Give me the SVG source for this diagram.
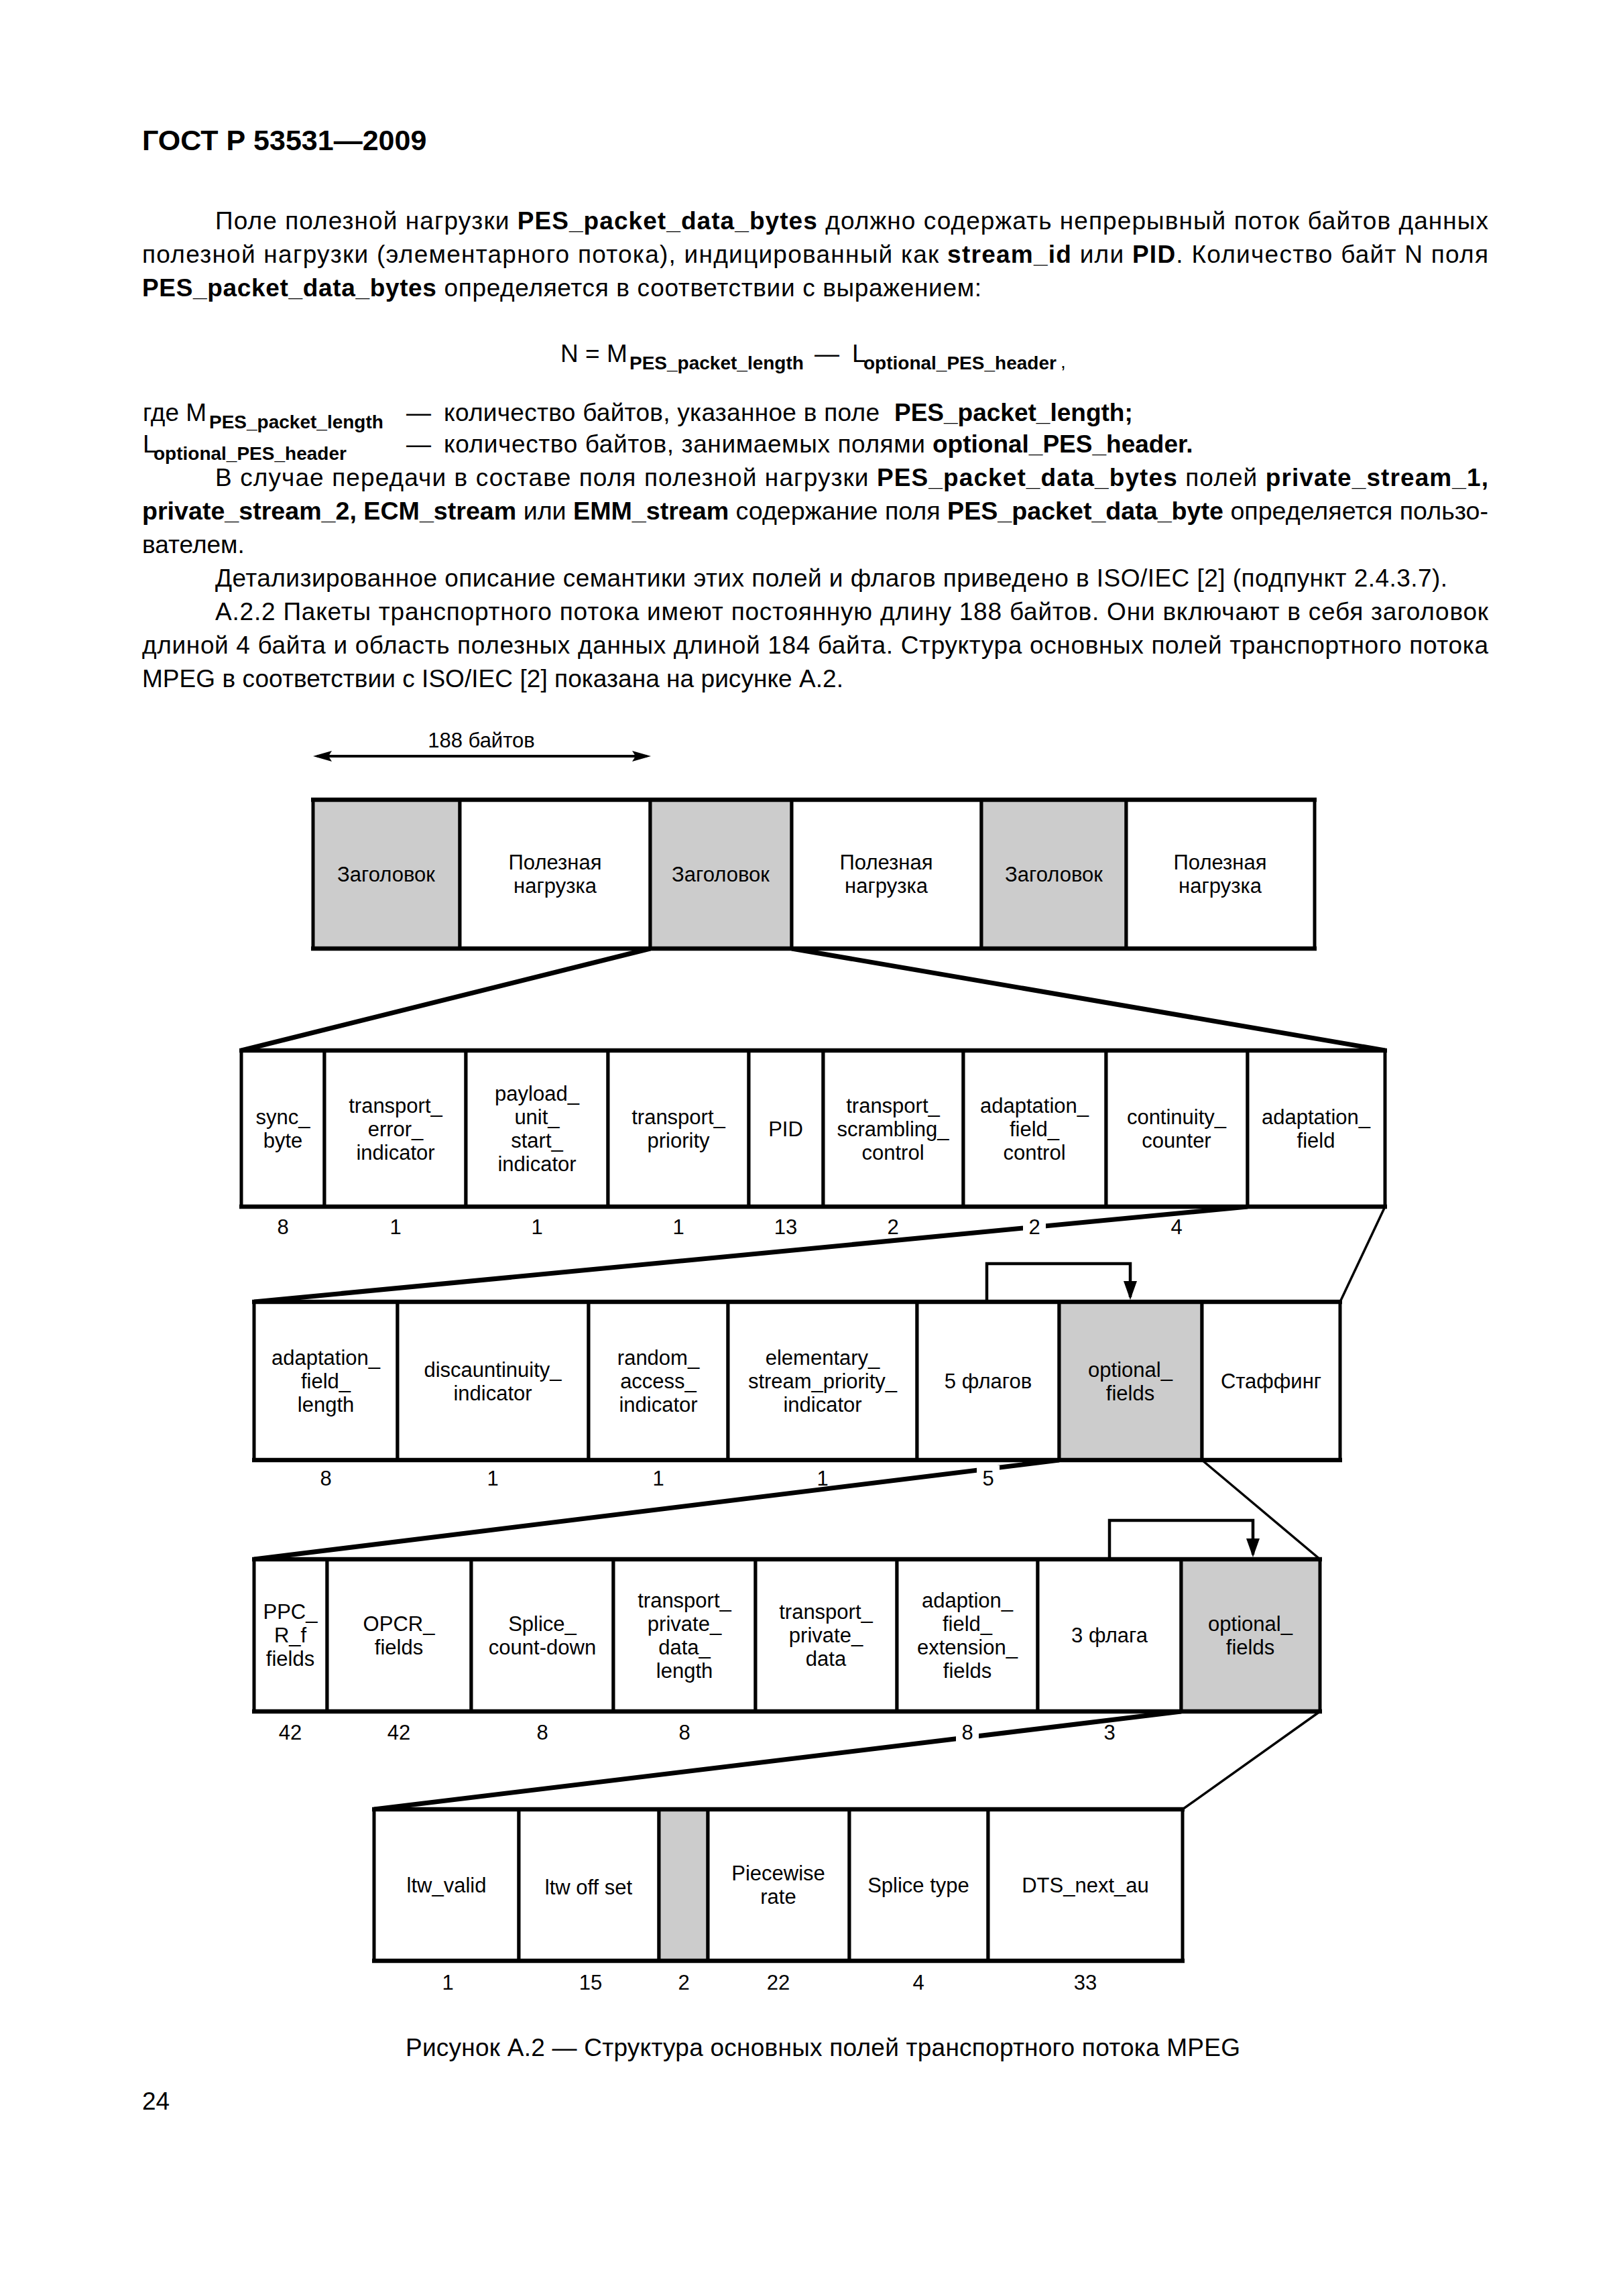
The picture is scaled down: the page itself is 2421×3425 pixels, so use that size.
<svg xmlns="http://www.w3.org/2000/svg" width="2421" height="3425" viewBox="0 0 2421 3425">
<style>
text{font-family:"Liberation Sans",Arial,sans-serif;fill:#000}
.body{font-size:37px}
.hdr{font-size:43px;font-weight:bold}
.b{font-weight:bold}
.sub{font-size:28px;font-weight:bold}
.lbl{font-size:31px;text-anchor:middle}
.num{font-size:31px;text-anchor:middle}
.cell{fill:#fff;stroke:#000;stroke-width:5}
.gray{fill:#cccccc}
.hl{stroke:#000;stroke-width:6.5}
.thick{stroke:#000;stroke-width:7;fill:none}
.thin{stroke:#000;stroke-width:3.5;fill:none}
.brk{stroke:#000;stroke-width:4.5;fill:none}
.gap{fill:#fff}
</style>
<defs>
<marker id="dim" markerUnits="userSpaceOnUse" viewBox="0 0 28 16" refX="22" refY="8" markerWidth="28" markerHeight="16" orient="auto-start-reverse">
<path d="M0,0 L28,8 L0,16 L5,8 Z" fill="#000"/>
</marker>
<marker id="down" markerUnits="userSpaceOnUse" viewBox="0 0 28 20" refX="24" refY="10" markerWidth="28" markerHeight="20" orient="auto">
<path d="M0,0 L28,10 L0,20 Z" fill="#000"/>
</marker>
</defs>
<rect x="0" y="0" width="2421" height="3425" fill="#fff"/>

<g id="page-text">
<text class="hdr" x="212" y="224">ГОСТ Р 53531—2009</text>
<text class="body" x="321" y="342" textLength="1899" lengthAdjust="spacing">Поле полезной нагрузки <tspan class="b">PES_packet_data_bytes</tspan> должно содержать непрерывный поток байтов данных</text>
<text class="body" x="212" y="392" textLength="2008" lengthAdjust="spacing">полезной нагрузки (элементарного потока), индицированный как <tspan class="b">stream_id</tspan> или <tspan class="b">PID</tspan>. Количество байт N поля</text>
<text class="body" x="212" y="442" textLength="1252" lengthAdjust="spacing"><tspan class="b">PES_packet_data_bytes</tspan> определяется в соответствии с выражением:</text>
<text class="body" y="540"><tspan x="836">N = M</tspan><tspan class="sub" x="939" y="551">PES_packet_length</tspan><tspan x="1215" y="540">—</tspan><tspan x="1271" y="540">L</tspan><tspan class="sub" x="1288" y="551">optional_PES_header</tspan><tspan class="sub" x="1582" y="549" style="font-weight:normal">,</tspan></text>
<text class="body" y="628"><tspan x="213">где M</tspan><tspan class="sub" x="312" y="639">PES_packet_length</tspan><tspan x="606" y="628">—</tspan></text>
<text class="body" x="662" y="628" textLength="650" lengthAdjust="spacing">количество байтов, указанное в поле</text>
<text class="body b" x="1334" y="628">PES_packet_length;</text>
<text class="body" y="675"><tspan x="213">L</tspan><tspan class="sub" x="229" y="686">optional_PES_header</tspan><tspan x="606" y="675">—</tspan></text>
<text class="body" x="662" y="675" textLength="718" lengthAdjust="spacing">количество байтов, занимаемых полями</text>
<text class="body b" x="1391" y="675">optional_PES_header.</text>
<text class="body" x="321" y="725" textLength="1899" lengthAdjust="spacing">В случае передачи в составе поля полезной нагрузки <tspan class="b">PES_packet_data_bytes</tspan> полей <tspan class="b">private_stream_1,</tspan></text>
<text class="body" x="212" y="775" textLength="2008" lengthAdjust="spacingAndGlyphs"><tspan class="b">private_stream_2, ECM_stream</tspan> или <tspan class="b">EMM_stream</tspan> содержание поля <tspan class="b">PES_packet_data_byte</tspan> определяется пользо-</text>
<text class="body" x="212" y="825">вателем.</text>
<text class="body" x="321" y="875" textLength="1838" lengthAdjust="spacing">Детализированное описание семантики этих полей и флагов приведено в ISO/IEC [2] (подпункт 2.4.3.7).</text>
<text class="body" x="321" y="925" textLength="1899" lengthAdjust="spacing">А.2.2 Пакеты транспортного потока имеют постоянную длину 188 байтов. Они включают в себя заголовок</text>
<text class="body" x="212" y="975" textLength="2008" lengthAdjust="spacing">длиной 4 байта и область полезных данных длиной 184 байта. Структура основных полей транспортного потока</text>
<text class="body" x="212" y="1025" textLength="1046" lengthAdjust="spacing">MPEG в соответствии с ISO/IEC [2] показана на рисунке А.2.</text>
<text class="body" x="605" y="3067" textLength="1245" lengthAdjust="spacing">Рисунок А.2 — Структура основных полей транспортного потока MPEG</text>
<text class="body" x="212" y="3147">24</text>
</g>

<g id="connectors">
<line x1="473" y1="1128" x2="965" y2="1128" stroke="#000" stroke-width="4" marker-start="url(#dim)" marker-end="url(#dim)"/>
<line class="thick" x1="970" y1="1415" x2="360" y2="1567"/>
<line class="thick" x1="1181" y1="1415" x2="2066" y2="1567"/>
<line class="thick" x1="1861" y1="1800" x2="379" y2="1942"/>
<line class="thin" x1="2066" y1="1800" x2="1999" y2="1942"/>
<line class="thick" x1="1580" y1="2178" x2="379" y2="2326"/>
<line class="thin" x1="1793" y1="2178" x2="1969" y2="2326"/>
<line class="thick" x1="1762" y1="2553" x2="558" y2="2699"/>
<line class="thin" x1="1969" y1="2553" x2="1764" y2="2699"/>
<path class="brk" d="M1472,1942 V1885 H1686 V1935" marker-end="url(#down)"/>
<path class="brk" d="M1655,2326 V2268 H1869 V2319" marker-end="url(#down)"/>
<rect class="gap" x="1526" y="1815" width="34" height="32"/>
<rect class="gap" x="1457" y="2186" width="34" height="36"/>
<rect class="gap" x="1426" y="2567" width="34" height="34"/>
</g>

<text class="lbl" x="718" y="1115">188 байтов</text>

<g id="row1">
<g id="r1c1"><rect class="cell gray" x="467" y="1193" width="219" height="222"/><text class="lbl" x="576" y="1315">Заголовок</text></g>
<g id="r1c2"><rect class="cell" x="686" y="1193" width="284" height="222"/><text class="lbl" x="828" y="1297">Полезная</text><text class="lbl" x="828" y="1332">нагрузка</text></g>
<g id="r1c3"><rect class="cell gray" x="970" y="1193" width="211" height="222"/><text class="lbl" x="1075" y="1315">Заголовок</text></g>
<g id="r1c4"><rect class="cell" x="1181" y="1193" width="283" height="222"/><text class="lbl" x="1322" y="1297">Полезная</text><text class="lbl" x="1322" y="1332">нагрузка</text></g>
<g id="r1c5"><rect class="cell gray" x="1464" y="1193" width="216" height="222"/><text class="lbl" x="1572" y="1315">Заголовок</text></g>
<g id="r1c6"><rect class="cell" x="1680" y="1193" width="281" height="222"/><text class="lbl" x="1820" y="1297">Полезная</text><text class="lbl" x="1820" y="1332">нагрузка</text></g>
<line class="hl" x1="464" y1="1193" x2="1964" y2="1193"/><line class="hl" x1="464" y1="1415" x2="1964" y2="1415"/>
</g>

<g id="row2">
<g id="r2c1"><rect class="cell" x="360" y="1567" width="124" height="233"/><text class="lbl" x="422" y="1677">sync_</text><text class="lbl" x="422" y="1712">byte</text><text class="num" x="422" y="1841">8</text></g>
<g id="r2c2"><rect class="cell" x="484" y="1567" width="211" height="233"/><text class="lbl" x="590" y="1660">transport_</text><text class="lbl" x="590" y="1695">error_</text><text class="lbl" x="590" y="1730">indicator</text><text class="num" x="590" y="1841">1</text></g>
<g id="r2c3"><rect class="cell" x="695" y="1567" width="212" height="233"/><text class="lbl" x="801" y="1642">payload_</text><text class="lbl" x="801" y="1677">unit_</text><text class="lbl" x="801" y="1712">start_</text><text class="lbl" x="801" y="1747">indicator</text><text class="num" x="801" y="1841">1</text></g>
<g id="r2c4"><rect class="cell" x="907" y="1567" width="210" height="233"/><text class="lbl" x="1012" y="1677">transport_</text><text class="lbl" x="1012" y="1712">priority</text><text class="num" x="1012" y="1841">1</text></g>
<g id="r2c5"><rect class="cell" x="1117" y="1567" width="111" height="233"/><text class="lbl" x="1172" y="1695">PID</text><text class="num" x="1172" y="1841">13</text></g>
<g id="r2c6"><rect class="cell" x="1228" y="1567" width="209" height="233"/><text class="lbl" x="1332" y="1660">transport_</text><text class="lbl" x="1332" y="1695">scrambling_</text><text class="lbl" x="1332" y="1730">control</text><text class="num" x="1332" y="1841">2</text></g>
<g id="r2c7"><rect class="cell" x="1437" y="1567" width="213" height="233"/><text class="lbl" x="1543" y="1660">adaptation_</text><text class="lbl" x="1543" y="1695">field_</text><text class="lbl" x="1543" y="1730">control</text><text class="num" x="1543" y="1841">2</text></g>
<g id="r2c8"><rect class="cell" x="1650" y="1567" width="211" height="233"/><text class="lbl" x="1755" y="1677">continuity_</text><text class="lbl" x="1755" y="1712">counter</text><text class="num" x="1755" y="1841">4</text></g>
<g id="r2c9"><rect class="cell" x="1861" y="1567" width="205" height="233"/><text class="lbl" x="1963" y="1677">adaptation_</text><text class="lbl" x="1963" y="1712">field</text></g>
<line class="hl" x1="357" y1="1567" x2="2069" y2="1567"/><line class="hl" x1="357" y1="1800" x2="2069" y2="1800"/>
</g>

<g id="row3">
<g id="r3c1"><rect class="cell" x="379" y="1942" width="214" height="236"/><text class="lbl" x="486" y="2036">adaptation_</text><text class="lbl" x="486" y="2071">field_</text><text class="lbl" x="486" y="2106">length</text><text class="num" x="486" y="2216">8</text></g>
<g id="r3c2"><rect class="cell" x="593" y="1942" width="285" height="236"/><text class="lbl" x="735" y="2054">discauntinuity_</text><text class="lbl" x="735" y="2089">indicator</text><text class="num" x="735" y="2216">1</text></g>
<g id="r3c3"><rect class="cell" x="878" y="1942" width="208" height="236"/><text class="lbl" x="982" y="2036">random_</text><text class="lbl" x="982" y="2071">access_</text><text class="lbl" x="982" y="2106">indicator</text><text class="num" x="982" y="2216">1</text></g>
<g id="r3c4"><rect class="cell" x="1086" y="1942" width="282" height="236"/><text class="lbl" x="1227" y="2036">elementary_</text><text class="lbl" x="1227" y="2071">stream_priority_</text><text class="lbl" x="1227" y="2106">indicator</text><text class="num" x="1227" y="2216">1</text></g>
<g id="r3c5"><rect class="cell" x="1368" y="1942" width="212" height="236"/><text class="lbl" x="1474" y="2071">5 флагов</text><text class="num" x="1474" y="2216">5</text></g>
<g id="r3c6"><rect class="cell gray" x="1580" y="1942" width="213" height="236"/><text class="lbl" x="1686" y="2054">optional_</text><text class="lbl" x="1686" y="2089">fields</text></g>
<g id="r3c7"><rect class="cell" x="1793" y="1942" width="206" height="236"/><text class="lbl" x="1896" y="2071">Стаффинг</text></g>
<line class="hl" x1="376" y1="1942" x2="2002" y2="1942"/><line class="hl" x1="376" y1="2178" x2="2002" y2="2178"/>
</g>

<g id="row4">
<g id="r4c1"><rect class="cell" x="379" y="2326" width="109" height="227"/><text class="lbl" x="433" y="2415">PPC_</text><text class="lbl" x="433" y="2450">R_f</text><text class="lbl" x="433" y="2485">fields</text><text class="num" x="433" y="2595">42</text></g>
<g id="r4c2"><rect class="cell" x="488" y="2326" width="215" height="227"/><text class="lbl" x="595" y="2433">OPCR_</text><text class="lbl" x="595" y="2468">fields</text><text class="num" x="595" y="2595">42</text></g>
<g id="r4c3"><rect class="cell" x="703" y="2326" width="212" height="227"/><text class="lbl" x="809" y="2433">Splice_</text><text class="lbl" x="809" y="2468">count-down</text><text class="num" x="809" y="2595">8</text></g>
<g id="r4c4"><rect class="cell" x="915" y="2326" width="212" height="227"/><text class="lbl" x="1021" y="2398">transport_</text><text class="lbl" x="1021" y="2433">private_</text><text class="lbl" x="1021" y="2468">data_</text><text class="lbl" x="1021" y="2503">length</text><text class="num" x="1021" y="2595">8</text></g>
<g id="r4c5"><rect class="cell" x="1127" y="2326" width="211" height="227"/><text class="lbl" x="1232" y="2415">transport_</text><text class="lbl" x="1232" y="2450">private_</text><text class="lbl" x="1232" y="2485">data</text></g>
<g id="r4c6"><rect class="cell" x="1338" y="2326" width="210" height="227"/><text class="lbl" x="1443" y="2398">adaption_</text><text class="lbl" x="1443" y="2433">field_</text><text class="lbl" x="1443" y="2468">extension_</text><text class="lbl" x="1443" y="2503">fields</text><text class="num" x="1443" y="2595">8</text></g>
<g id="r4c7"><rect class="cell" x="1548" y="2326" width="214" height="227"/><text class="lbl" x="1655" y="2450">3 флага</text><text class="num" x="1655" y="2595">3</text></g>
<g id="r4c8"><rect class="cell gray" x="1762" y="2326" width="207" height="227"/><text class="lbl" x="1865" y="2433">optional_</text><text class="lbl" x="1865" y="2468">fields</text></g>
<line class="hl" x1="376" y1="2326" x2="1972" y2="2326"/><line class="hl" x1="376" y1="2553" x2="1972" y2="2553"/>
</g>

<g id="row5">
<g id="r5c1"><rect class="cell" x="558" y="2699" width="216" height="226"/><text class="lbl" x="666" y="2823">ltw_valid</text><text class="num" x="668" y="2968">1</text></g>
<g id="r5c2"><rect class="cell" x="774" y="2699" width="209" height="226"/><text class="lbl" x="878" y="2826">ltw off set</text><text class="num" x="881" y="2968">15</text></g>
<g id="r5c3"><rect class="cell gray" x="983" y="2699" width="73" height="226"/><text class="num" x="1020" y="2968">2</text></g>
<g id="r5c4"><rect class="cell" x="1056" y="2699" width="211" height="226"/><text class="lbl" x="1161" y="2805">Piecewise</text><text class="lbl" x="1161" y="2840">rate</text><text class="num" x="1161" y="2968">22</text></g>
<g id="r5c5"><rect class="cell" x="1267" y="2699" width="207" height="226"/><text class="lbl" x="1370" y="2823">Splice type</text><text class="num" x="1370" y="2968">4</text></g>
<g id="r5c6"><rect class="cell" x="1474" y="2699" width="290" height="226"/><text class="lbl" x="1619" y="2823">DTS_next_au</text><text class="num" x="1619" y="2968">33</text></g>
<line class="hl" x1="555" y1="2699" x2="1767" y2="2699"/><line class="hl" x1="555" y1="2925" x2="1767" y2="2925"/>
</g>
</svg>
